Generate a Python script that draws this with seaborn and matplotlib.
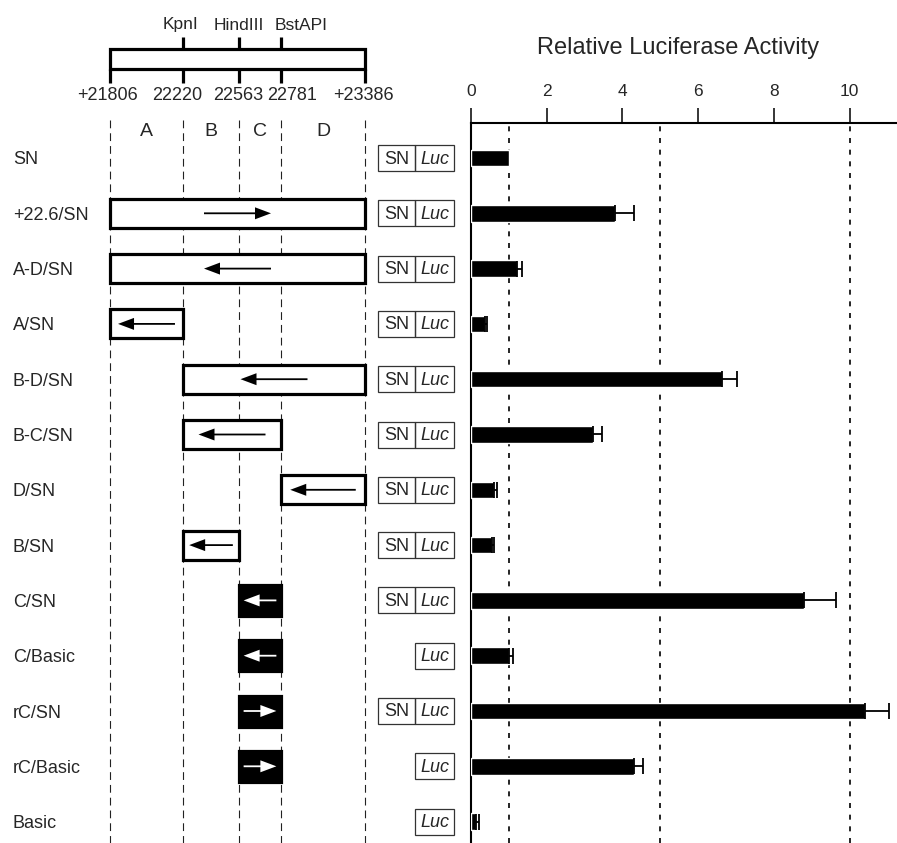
import numpy as np
import pandas as pd
import matplotlib.pyplot as plt
from matplotlib.patches import Rectangle, FancyArrow
import seaborn as sns

sns.set_style("white")
plt.rcParams["font.family"] = ["Liberation Sans", "DejaVu Sans"]

# ---------------------------------------------------------
# data
# ---------------------------------------------------------
constructs = ["SN", "+22.6/SN", "A-D/SN", "A/SN", "B-D/SN", "B-C/SN", "D/SN",
              "B/SN", "C/SN", "C/Basic", "rC/SN", "rC/Basic", "Basic"]
activity = [1.00, 3.80, 1.21, 0.37, 6.62, 3.23, 0.62, 0.55, 8.81, 1.01, 10.41, 4.31, 0.13]
error = [0.00, 0.51, 0.13, 0.06, 0.42, 0.23, 0.08, 0.06, 0.83, 0.11, 0.63, 0.23, 0.08]

# fragment carried by each construct: indices into the site list (None = no insert)
frag_start = [None, 0, 0, 0, 1, 1, 3, 1, 2, 2, 2, 2, None]
frag_end = [None, 4, 4, 1, 4, 3, 4, 2, 3, 3, 3, 3, None]
direction = [0, 1, -1, -1, -1, -1, -1, -1, -1, -1, 1, 1, 0]
solid = [False] * 8 + [True] * 4 + [False]
has_sn = [True] * 9 + [False, True, False, False]

sites = ["+21806", "22220", "22563", "22781", "+23386"]
enzymes = ["KpnI", "HindIII", "BstAPI"]
regions = ["A", "B", "C", "D"]
ticks = [0, 2, 4, 6, 8, 10]
guides = [1, 5, 10]

# ---------------------------------------------------------
# layout (pixels)
# ---------------------------------------------------------
W, H = 897, 843
SITE_X = [110, 183, 239, 281, 365]
SITE_LABEL_X = [108, 177, 238, 292, 363]
ENZ_X = [181, 239, 301]
ROW0, STEP = 158, 55.3
AX_X, AX_Y = 471, 123
PX_PER_UNIT = 37.85

fig = plt.figure(figsize=(W / 100, H / 100), dpi=100)
axl = fig.add_axes([0, 0, AX_X / W, 1])
axl.set_xlim(0, AX_X)
axl.set_ylim(H, 0)
axl.axis("off")

fs = 13
# restriction map
axl.add_patch(Rectangle((SITE_X[0], 49), SITE_X[-1] - SITE_X[0], 20, fill=False,
                        lw=2.3, ec="black", zorder=3))
for x in SITE_X[1:4]:
    axl.plot([x, x], [37, 49], color="black", lw=2.3, solid_capstyle="butt")
for x in SITE_X:
    axl.plot([x, x], [69, 83], color="black", lw=2.3, solid_capstyle="butt")
for name, x in zip(enzymes, ENZ_X):
    axl.text(x, 25, name, ha="center", va="center", fontsize=12.5)
for name, x in zip(sites, SITE_LABEL_X):
    axl.text(x, 95, name, ha="center", va="center", fontsize=fs)
for i, name in enumerate(regions):
    axl.text((SITE_X[i] + SITE_X[i + 1]) / 2, 132, name, ha="center", va="center", fontsize=14)
for x in SITE_X:
    axl.plot([x, x], [120, H], color="#222222", lw=0.8, ls=(0, (7, 4.5)), zorder=1)

# constructs
for i, name in enumerate(constructs):
    y = ROW0 + STEP * i
    axl.text(13, y + 2, name, ha="left", va="center", fontsize=fs)
    if frag_start[i] is not None:
        x0, x1 = SITE_X[frag_start[i]], SITE_X[frag_end[i]]
        w = x1 - x0
        h = 31 if solid[i] else 29
        axl.add_patch(Rectangle((x0, y - h / 2), w, h, fc="black" if solid[i] else "white",
                                ec="black", lw=2.3, zorder=3))
        length = min(67, w * 0.78)
        cx = (x0 + x1) / 2
        start = cx - direction[i] * length / 2
        col = "white" if solid[i] else "black"
        axl.add_patch(FancyArrow(start, y, direction[i] * length, 0, width=1.8,
                                 head_width=12, head_length=16, length_includes_head=True,
                                 color=col, lw=0, zorder=4))
    # reporter boxes
    if has_sn[i]:
        axl.add_patch(Rectangle((378, y - 13), 37, 26, fill=False, ec="#333333", lw=0.9))
        axl.text(396.5, y + 1, "SN", ha="center", va="center", fontsize=fs)
    axl.add_patch(Rectangle((415, y - 13), 39, 26, fill=False, ec="#333333", lw=0.9))
    axl.text(434.5, y + 1, "Luc", ha="center", va="center", fontsize=fs, style="italic")

# ---------------------------------------------------------
# bar chart
# ---------------------------------------------------------
axr = fig.add_axes([AX_X / W, 0, (W - AX_X) / W, (H - AX_Y) / H])
df = pd.DataFrame({"construct": constructs, "activity": activity, "error": error})
sns.barplot(data=df, y="construct", x="activity", order=constructs, orient="h",
            color="black", saturation=1, width=0.3, errorbar=None, ax=axr, zorder=3)
pos = np.arange(len(df))
m = df["error"] > 0
axr.errorbar(df["activity"][m], pos[m], xerr=[np.zeros(m.sum()), df["error"][m]],
             fmt="none", ecolor="black", elinewidth=1.3, capsize=5.5, capthick=1.3, zorder=4)
for g in guides:
    axr.axvline(g, color="black", lw=1.2, ls=(0, (3, 4)), zorder=1)

axr.set_xlim(0, (W - AX_X) / PX_PER_UNIT)
axr.set_ylim(((H - ROW0) / STEP), -(ROW0 - AX_Y) / STEP)
axr.set_xticks(ticks)
axr.set_xticklabels([str(t) for t in ticks])
axr.xaxis.tick_top()
axr.tick_params(axis="x", direction="out", length=11, width=1.3, pad=6, labelsize=12.5)
axr.set_yticks([])
axr.set_xlabel("")
axr.set_ylabel("")
for s in ["right", "bottom"]:
    axr.spines[s].set_visible(False)
for s in ["top", "left"]:
    axr.spines[s].set_linewidth(1.5)
    axr.spines[s].set_color("black")

fig.text(678 / W, 1 - 48 / H, "Relative Luciferase Activity", ha="center", va="center",
         fontsize=17)

fig.savefig("out.png", dpi=100)
